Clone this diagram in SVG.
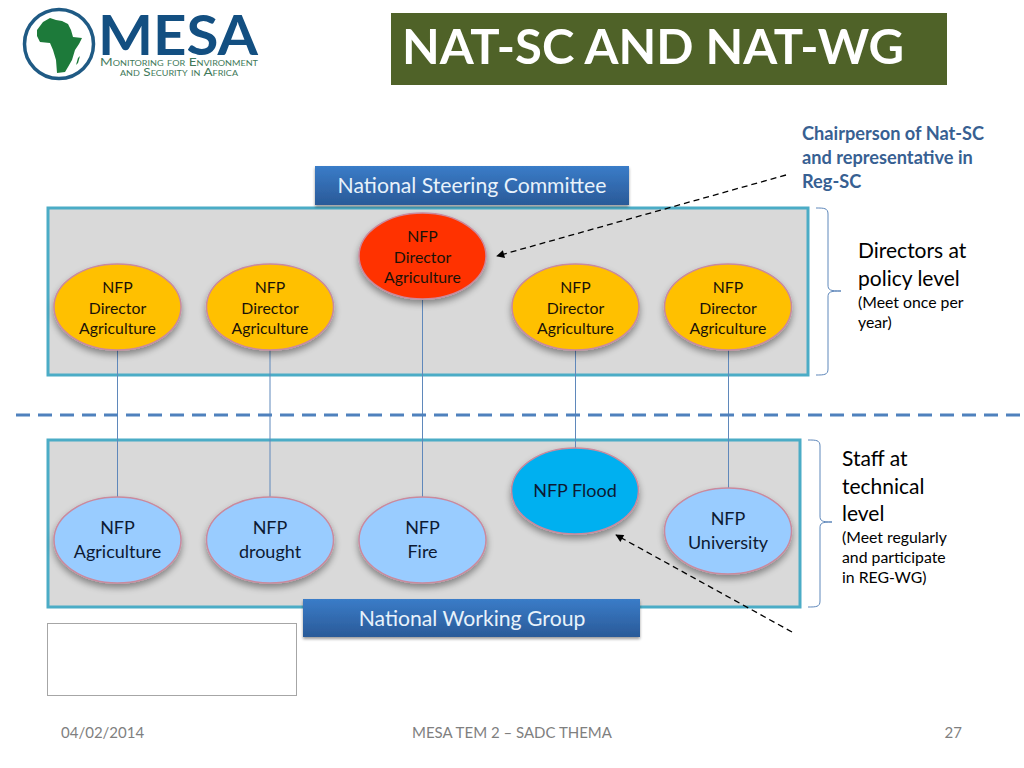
<svg xmlns="http://www.w3.org/2000/svg" width="1024" height="768" viewBox="0 0 1024 768">
<style>
text{font-family:Lato,"Liberation Sans",sans-serif}
.panel{fill:#d9d9d9;stroke:#4bacc6;stroke-width:3}
.link{stroke:#5f88bb;stroke-width:1;fill:none}
.brace{stroke:#5f88bb;stroke-width:1;fill:none}
.dash{stroke:#000;stroke-width:1.3;stroke-dasharray:6 4;fill:none}
.el{stroke:#c98a9e;stroke-width:1.5;filter:url(#sh)}
.o{fill:#ffc000}.r{fill:#ff3300}.b{fill:#99ccff}.c{fill:#00b0f0}
.t3{font-size:15.800px;fill:#1a1208;text-anchor:middle}
.t2{font-size:18px;fill:#0d1a33;text-anchor:middle}
.bar{fill:url(#bg);filter:url(#sh2)}
.bt{font-size:21.200px;fill:#e8f2fb;text-anchor:middle}
.foot{font-size:15px;fill:#7f7f7f}
.big{font-size:21px;fill:#000}
.small{font-size:15.800px;fill:#000}
.chair{font-size:18.200px;font-weight:700;fill:#376092}
.sub{font-size:10.500px;fill:#3f7a5a;text-anchor:middle;font-variant:small-caps}
</style>
<defs>
<linearGradient id="bg" x1="0" y1="0" x2="0" y2="1"><stop offset="0" stop-color="#3a7cc8"/><stop offset="1" stop-color="#2a5a98"/></linearGradient>
<filter id="sh" x="-20%" y="-20%" width="140%" height="150%"><feGaussianBlur in="SourceAlpha" stdDeviation="3.500"/><feOffset dy="4"/><feComponentTransfer><feFuncA type="linear" slope=".4"/></feComponentTransfer><feMerge><feMergeNode/><feMergeNode in="SourceGraphic"/></feMerge></filter>
<filter id="sh2" x="-5%" y="-20%" width="110%" height="150%"><feGaussianBlur in="SourceAlpha" stdDeviation="1.500"/><feOffset dy="2"/><feComponentTransfer><feFuncA type="linear" slope=".4"/></feComponentTransfer><feMerge><feMergeNode/><feMergeNode in="SourceGraphic"/></feMerge></filter>
<marker id="ah" viewBox="0 0 10 10" refX="9" refY="5" markerWidth="9" markerHeight="8" markerUnits="userSpaceOnUse" orient="auto"><path d="M0 0L10 5L0 10z" fill="#000"/></marker>
</defs>

<g id="logo">
<circle cx="59" cy="44" r="34.500" fill="#fff" stroke="#1f5a84" stroke-width="3.500"/>
<path d="M37 30L43 22L50 18L56 20L62 21L68 24L71 30L73 37L82 38L79 44L75 50L72 60L68 67L65 72L57 73L56 60L53 50L50 43L40 42L37 36z" fill="#1d7a3a"/>
<path d="M78 58L80 56L78 63L76 65z" fill="#1d7a3a"/>
<text x="98" y="55" font-size="55" font-weight="700" fill="#134f81" textLength="160" lengthAdjust="spacingAndGlyphs">MESA</text>
<text class="sub" x="179" y="66" textLength="158" lengthAdjust="spacingAndGlyphs">Monitoring for Environment</text>
<text class="sub" x="179" y="76" textLength="118" lengthAdjust="spacingAndGlyphs">and Security in Africa</text>
</g>

<g id="title">
<rect x="391" y="13" width="556" height="72" fill="#4f6228"/>
<text x="402" y="64" font-size="47.500" font-weight="700" fill="#fff" textLength="502" lengthAdjust="spacingAndGlyphs">NAT-SC AND NAT-WG</text>
</g>

<g id="panel-sc"><rect class="panel" x="48" y="208" width="760" height="167"/></g>
<g id="panel-wg"><rect class="panel" x="48" y="440" width="752" height="167"/></g>

<g id="connectors">
<path class="link" d="M117.500 350V497M270 350V497M422.500 300V497M575.500 350V448M728.500 350V488"/>
<path d="M16 415H1024" stroke="#4f81bd" stroke-width="3" stroke-dasharray="14 8" fill="none"/>
<path class="dash" d="M786 175L497 256" marker-end="url(#ah)"/>
<path class="dash" d="M792 632L616 535" marker-end="url(#ah)"/>
<path class="brace" d="M816 208C824 208 828 208 828 214V285C828 290 830 291 841 291C830 291 828 292 828 297V369C828 375 824 375 816 375"/>
<path class="brace" d="M808 440C816 440 820 440 820 446V516C820 521 822 522 832 522C822 522 820 523 820 528V601C820 607 816 607 808 607"/>
</g>

<g id="bar-sc"><rect class="bar" x="315" y="166" width="314" height="39"/><text class="bt" x="472" y="193">National Steering Committee</text></g>
<g id="bar-wg"><rect class="bar" x="303" y="599" width="337" height="38"/><text class="bt" x="472" y="626">National Working Group</text></g>

<g id="n-sc-1"><ellipse class="el o" cx="117.500" cy="307" rx="63.500" ry="43"/><text class="t3" x="117.500" y="293">NFP</text><text class="t3" x="117.500" y="313.500">Director</text><text class="t3" x="117.500" y="334">Agriculture</text></g>
<g id="n-sc-2"><ellipse class="el o" cx="270" cy="307" rx="63.500" ry="43"/><text class="t3" x="270" y="293">NFP</text><text class="t3" x="270" y="313.500">Director</text><text class="t3" x="270" y="334">Agriculture</text></g>
<g id="n-sc-3"><ellipse class="el r" cx="422.500" cy="256" rx="63.500" ry="43"/><text class="t3" x="422.500" y="242">NFP</text><text class="t3" x="422.500" y="262.500">Director</text><text class="t3" x="422.500" y="283">Agriculture</text></g>
<g id="n-sc-4"><ellipse class="el o" cx="575.500" cy="307" rx="63.500" ry="43"/><text class="t3" x="575.500" y="293">NFP</text><text class="t3" x="575.500" y="313.500">Director</text><text class="t3" x="575.500" y="334">Agriculture</text></g>
<g id="n-sc-5"><ellipse class="el o" cx="728" cy="307" rx="63.500" ry="43"/><text class="t3" x="728" y="293">NFP</text><text class="t3" x="728" y="313.500">Director</text><text class="t3" x="728" y="334">Agriculture</text></g>

<g id="n-wg-1"><ellipse class="el b" cx="117.500" cy="540" rx="63.500" ry="43"/><text class="t2" x="117.500" y="534">NFP</text><text class="t2" x="117.500" y="558">Agriculture</text></g>
<g id="n-wg-2"><ellipse class="el b" cx="270" cy="540" rx="63.500" ry="43"/><text class="t2" x="270" y="534">NFP</text><text class="t2" x="270" y="558">drought</text></g>
<g id="n-wg-3"><ellipse class="el b" cx="422.500" cy="540" rx="63.500" ry="43"/><text class="t2" x="422.500" y="534">NFP</text><text class="t2" x="422.500" y="558">Fire</text></g>
<g id="n-wg-4"><ellipse class="el c" cx="575" cy="491" rx="63.500" ry="43"/><text class="t2" x="575" y="497">NFP Flood</text></g>
<g id="n-wg-5"><ellipse class="el b" cx="728" cy="531" rx="63.500" ry="43"/><text class="t2" x="728" y="525">NFP</text><text class="t2" x="728" y="549">University</text></g>

<g id="label-chair"><text class="chair" x="802" y="140">Chairperson of Nat-SC</text><text class="chair" x="802" y="164">and representative in</text><text class="chair" x="802" y="188">Reg-SC</text></g>
<g id="label-directors"><text class="big" x="858" y="258">Directors at</text><text class="big" x="858" y="286">policy level</text><text class="small" x="858" y="308">(Meet once per</text><text class="small" x="858" y="328">year)</text></g>
<g id="label-staff"><text class="big" x="842" y="466">Staff at</text><text class="big" x="842" y="494">technical</text><text class="big" x="842" y="521">level</text><text class="small" x="842" y="543">(Meet regularly</text><text class="small" x="842" y="563">and participate</text><text class="small" x="842" y="583">in REG-WG)</text></g>

<g id="empty-box"><rect x="47.500" y="623.500" width="249" height="72" fill="#fff" stroke="#a6a6a6" stroke-width="1"/></g>

<g id="footer"><text class="foot" x="61" y="738">04/02/2014</text><text class="foot" x="512" y="738" text-anchor="middle">MESA TEM 2 – SADC THEMA</text><text class="foot" x="962" y="738" text-anchor="end">27</text></g>
</svg>
